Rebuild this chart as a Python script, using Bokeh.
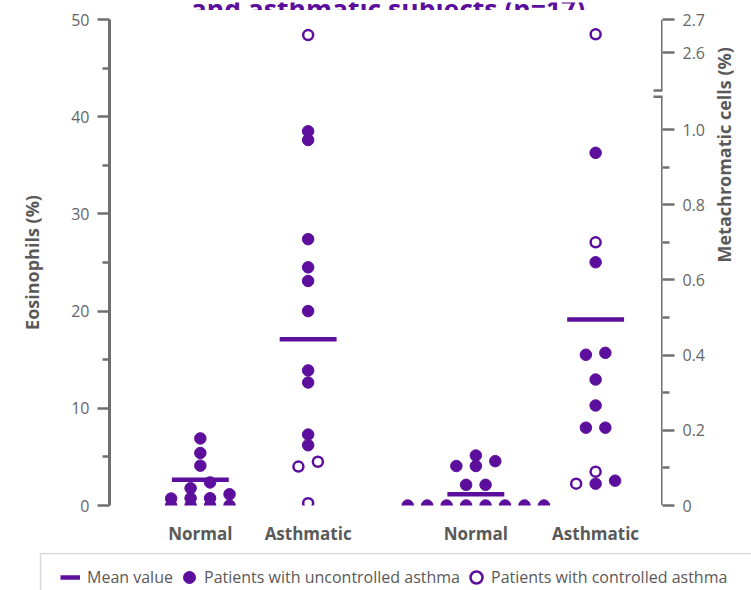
import math
from bokeh.plotting import figure
from bokeh.layouts import column
from bokeh.models import (Range1d, LinearAxis, FixedTicker, CustomJSTickFormatter,
                          Legend, LegendItem, ColumnDataSource, Arrow, Label, BoxAnnotation)
from bokeh.embed import file_html
from bokeh.resources import INLINE

# ---------------- data ----------------
group_labels = ["Normal", "Asthmatic", "Normal", "Asthmatic"]

eos_normal = [0, 0, 0, 0, 0.72, 0.75, 0.75, 1.16, 1.78, 2.37, 4.1, 5.4, 6.9]
eos_asthma_uncontrolled = [38.5, 37.6, 27.4, 24.5, 23.1, 20.0, 13.9, 12.65, 7.3, 6.2]
eos_asthma_controlled = [48.4, 4.5, 4.0, 0.24]

meta_normal = [0, 0, 0, 0, 0, 0, 0, 0, 0.055, 0.055, 0.105, 0.105, 0.118, 0.133]
meta_asthma_uncontrolled = [0.938, 0.647, 0.406, 0.401, 0.335, 0.266, 0.207, 0.207, 0.066, 0.058]
meta_asthma_controlled = [2.655, 0.70, 0.09, 0.058]

eos_means = [2.64, 17.1]
meta_means = [0.030, 0.495]

eos_ticks = [0, 10, 20, 30, 40, 50]
eos_minor = [5, 15, 25, 35, 45]
meta_ticks = [0, 0.2, 0.4, 0.6, 0.8, 1.0, 2.6, 2.7]
meta_minor = [0.1, 0.3, 0.5, 0.7, 0.9]

title_text = "and asthmatic subjects (n=17)"
legend_labels = ["Mean value", "Patients with uncontrolled asthma", "Patients with controlled asthma"]

# ---------------- layout / style constants ----------------
W = 751
H_TITLE, H_MAIN, H_LEG = 10, 542, 38
FL, FT = 109, 9                      # frame left / top inside main figure
FW, FH = 554, 486
CENTERS = [91, 199, 367, 487]        # group centres in frame pixels
PITCH = 19.5                         # swarm column spacing (px)
TOL = 6.0                            # same-row tolerance (px)
MEAN_HALF = 28.5
EOS_TOP = 50
META_TOP = 1.2926                    # display top of broken right axis
META_U0 = 1.2048                     # display position of 2.6
BRK_LO, BRK_HI = 1.087, 1.104        # axis-break marks (display units)

PURPLE = "#5C0E9C"
AXIS = "#707070"
TXT = "#666666"
TXT2 = "#595959"
FONT = "Open Sans"
NAN = float("nan")


def meta_disp(v):
    if v <= 1.5:
        return v
    return META_U0 + (v - 2.6) * (META_TOP - META_U0) / 0.1


def swarm(values, center, px_per_unit):
    order = sorted(range(len(values)), key=lambda i: values[i])
    clusters = []
    for i in order:
        ypx = values[i] * px_per_unit
        if clusters and ypx - clusters[-1][0] < TOL:
            clusters[-1][1].append(i)
        else:
            clusters.append([ypx, [i]])
    xs = [0.0] * len(values)
    for _, idx in clusters:
        n = len(idx)
        for k, i in enumerate(idx):
            xs[i] = center + (k - (n - 1) / 2) * PITCH
    return xs


eos_ppu = FH / EOS_TOP
meta_ppu = FH / META_TOP

filled = {"x": [], "y": []}
opened = {"x": [], "y": []}
filled_m = {"x": [], "y": []}
opened_m = {"x": [], "y": []}

xs = swarm(eos_normal, CENTERS[0], eos_ppu)
filled["x"] += xs
filled["y"] += eos_normal

vals = eos_asthma_controlled + eos_asthma_uncontrolled
xs = swarm(vals, CENTERS[1], eos_ppu)
nc = len(eos_asthma_controlled)
opened["x"] += xs[:nc]
opened["y"] += vals[:nc]
filled["x"] += xs[nc:]
filled["y"] += vals[nc:]

d = [meta_disp(v) for v in meta_normal]
xs = swarm(d, CENTERS[2], meta_ppu)
filled_m["x"] += xs
filled_m["y"] += d

vals = meta_asthma_controlled + meta_asthma_uncontrolled
d = [meta_disp(v) for v in vals]
xs = swarm(d, CENTERS[3], meta_ppu)
nc = len(meta_asthma_controlled)
opened_m["x"] += xs[:nc]
opened_m["y"] += d[:nc]
filled_m["x"] += xs[nc:]
filled_m["y"] += d[nc:]


def strip(height):
    s = figure(width=W, height=height, x_range=Range1d(0, W), y_range=Range1d(0, height),
               output_backend="svg", toolbar_location=None, title=None,
               x_axis_type=None, y_axis_type=None, min_border=0)
    s.outline_line_color = None
    s.background_fill_color = "white"
    s.border_fill_color = "white"
    try:
        s.frame_align = False
    except Exception:
        pass
    return s


# ---------------- title strip (cut off at the top, as in the reference) ----------------
tstrip = strip(H_TITLE)
tstrip.add_layout(Label(x=387.5, y=H_TITLE - 6, text=title_text,
                        text_align="center", text_baseline="alphabetic",
                        text_font=FONT, text_font_size="26.5px", text_font_style="bold",
                        text_color=PURPLE))

# ---------------- main figure ----------------
fig = figure(width=W, height=H_MAIN, x_range=Range1d(0, FW), y_range=Range1d(0, EOS_TOP),
             output_backend="svg", toolbar_location=None, title=None,
             min_border_left=FL, min_border_right=W - FL - FW,
             min_border_top=FT, min_border_bottom=H_MAIN - FT - FH)
try:
    fig.frame_align = False
except Exception:
    pass
fig.extra_y_ranges = {"meta": Range1d(0, META_TOP)}
fig.outline_line_color = None
fig.xgrid.visible = False
fig.ygrid.visible = False
fig.background_fill_color = "white"
fig.border_fill_color = "white"

ya = fig.yaxis[0]
ya.ticker = FixedTicker(ticks=eos_ticks, minor_ticks=eos_minor)
ya.axis_label = "Eosinophils (%)"
ya.axis_label_standoff = 24

ra = LinearAxis(y_range_name="meta", axis_label="Metachromatic cells (%)")
ra.ticker = FixedTicker(ticks=[meta_disp(t) for t in meta_ticks], minor_ticks=meta_minor)
ra.formatter = CustomJSTickFormatter(
    args=dict(u0=META_U0, top=META_TOP),
    code="""
    if (tick > 1.1) { return (2.6 + (tick - u0) * 0.1 / (top - u0)).toFixed(1); }
    if (Math.abs(tick) < 1e-9) { return "0"; }
    return tick.toFixed(1);
    """)
ra.axis_label_standoff = 16
try:
    ra.axis_label_orientation = math.pi / 2
except Exception:
    pass
fig.add_layout(ra, "right")

for ax in (ya, ra):
    ax.axis_line_color = AXIS
    ax.axis_line_width = 3
    ax.major_tick_line_color = AXIS
    ax.major_tick_line_width = 2.5
    ax.minor_tick_line_color = AXIS
    ax.minor_tick_line_width = 2.5
    ax.major_tick_in = 0
    ax.minor_tick_in = 0
    ax.major_tick_out = 12
    ax.minor_tick_out = 7
    ax.major_label_standoff = 8
    ax.major_label_text_font = FONT
    ax.major_label_text_font_size = "16px"
    ax.major_label_text_color = TXT
    ax.axis_label_text_font = FONT
    ax.axis_label_text_font_size = "18px"
    ax.axis_label_text_font_style = "bold"
    ax.axis_label_text_color = TXT2
ra.axis_line_color = None

xa = fig.xaxis[0]
xa.ticker = FixedTicker(ticks=CENTERS, minor_ticks=[])
xa.formatter = CustomJSTickFormatter(
    args=dict(pos=CENTERS, names=group_labels),
    code="const i = pos.indexOf(tick); return i < 0 ? '' : names[i];")
xa.axis_line_color = None
xa.major_tick_line_color = None
xa.minor_tick_line_color = None
xa.major_tick_out = 0
xa.major_label_standoff = 16
xa.major_label_text_font = FONT
xa.major_label_text_font_size = "17px"
xa.major_label_text_font_style = "bold"
xa.major_label_text_color = TXT2

# broken right axis line
for y0, y1 in [(0, BRK_LO), (BRK_HI, META_TOP)]:
    fig.add_layout(Arrow(start=None, end=None, x_start=FW, x_end=FW, y_start=y0, y_end=y1,
                         y_range_name="meta", line_color=AXIS, line_width=3))
for yb in (BRK_LO, BRK_HI):
    fig.add_layout(Arrow(start=None, end=None, x_start=FW - 9, x_end=FW + 13, y_start=yb, y_end=yb,
                         y_range_name="meta", line_color=AXIS, line_width=2.5))

mean_kw = dict(line_color=PURPLE, line_width=4.5)
fill_kw = dict(marker="circle", size=11.5, fill_color=PURPLE, line_color=PURPLE, line_width=1)
open_kw = dict(marker="circle", size=10, fill_color="white", line_color=PURPLE, line_width=2.5)

mean_src = ColumnDataSource(dict(x0=[c - MEAN_HALF for c in CENTERS[:2]],
                                 x1=[c + MEAN_HALF for c in CENTERS[:2]],
                                 y=eos_means))
mean_src_m = ColumnDataSource(dict(x0=[c - MEAN_HALF for c in CENTERS[2:]],
                                   x1=[c + MEAN_HALF for c in CENTERS[2:]],
                                   y=meta_means))
fig.segment(x0="x0", x1="x1", y0="y", y1="y", source=mean_src, **mean_kw)
fig.segment(x0="x0", x1="x1", y0="y", y1="y", source=mean_src_m, y_range_name="meta", **mean_kw)

fig.scatter(x="x", y="y", source=ColumnDataSource(filled), **fill_kw)
fig.scatter(x="x", y="y", source=ColumnDataSource(opened), **open_kw)
fig.scatter(x="x", y="y", source=ColumnDataSource(filled_m), y_range_name="meta", **fill_kw)
fig.scatter(x="x", y="y", source=ColumnDataSource(opened_m), y_range_name="meta", **open_kw)

# ---------------- legend strip ----------------
leg = strip(H_LEG)
r_mean = leg.segment(x0=[NAN], x1=[NAN], y0=[NAN], y1=[NAN], **mean_kw)
r_fill = leg.scatter(x=[NAN], y=[NAN], **fill_kw)
r_open = leg.scatter(x=[NAN], y=[NAN], **open_kw)

leg.add_layout(BoxAnnotation(left=40, right=2000, top=H_LEG - 1, bottom=-60,
                             fill_color=None, line_color="#808080", line_width=1.5))

legend_specs = [(r_mean, legend_labels[0], 60, 20, 7),
                (r_fill, legend_labels[1], 174, 30, -7),
                (r_open, legend_labels[2], 461, 30, -4)]
for rend, lab, lx, gw, stand in legend_specs:
    leg.add_layout(Legend(items=[LegendItem(label=lab, renderers=[rend])],
                          location=(lx, -2), orientation="horizontal",
                          glyph_width=gw, glyph_height=30, padding=0, margin=0,
                          label_standoff=stand,
                          label_text_font=FONT, label_text_font_size="16px",
                          label_text_color=TXT2,
                          border_line_color=None, background_fill_alpha=0))

p = column(tstrip, fig, leg, spacing=0)
open("out.html", "w").write(file_html(p, INLINE))
